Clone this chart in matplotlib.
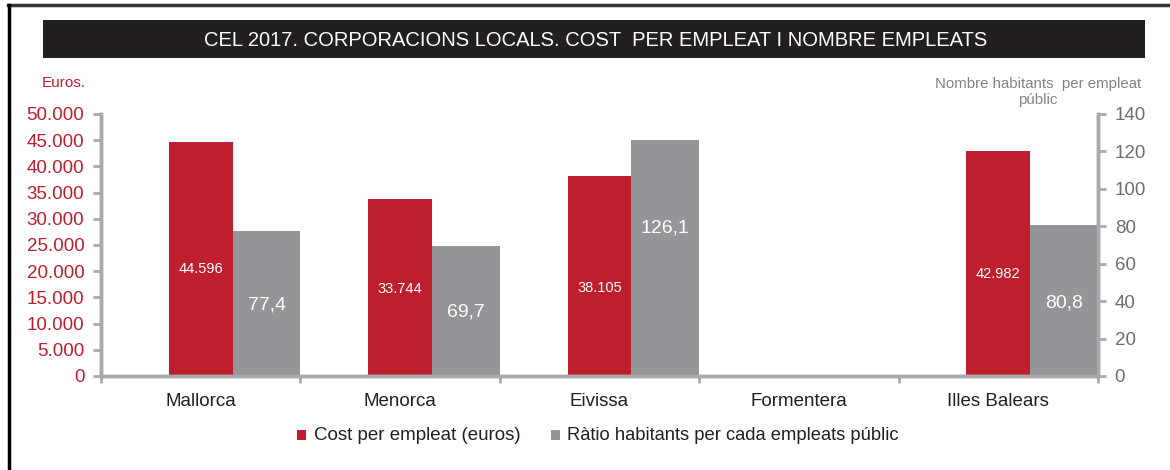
import numpy as np
import matplotlib.pyplot as plt
from matplotlib.patches import Rectangle
from matplotlib.lines import Line2D

plt.rcParams['font.family'] = ['Liberation Sans', 'DejaVu Sans']

categories = ['Mallorca', 'Menorca', 'Eivissa', 'Formentera', 'Illes Balears']
cost = [44596, 33744, 38105, np.nan, 42982]
ratio = [77.4, 69.7, 126.1, np.nan, 80.8]
cost_labels = ['44.596', '33.744', '38.105', '', '42.982']
ratio_labels = ['77,4', '69,7', '126,1', '', '80,8']
left_ticks = np.arange(0, 50001, 5000)
right_ticks = np.arange(0, 141, 20)

# where the labels sit inside each bar (fraction of bar height)
cost_lab_pos = [0.46, 0.49, 0.44, 0, 0.455]
ratio_lab_pos = [0.49, 0.49, 0.627, 0, 0.485]

RED = '#BE1E2D'
GREY = '#939598'
AXC = '#A7A9AC'
DARK = '#231F20'

fig = plt.figure(figsize=(11.7, 4.7), dpi=100)

# outer frame (top + left visible)
fig.add_artist(Line2D([8/1170, 1], [1-4.5/470, 1-4.5/470], color='#333333', lw=2.5))
fig.add_artist(Line2D([9/1170, 9/1170], [0, 1-4.5/470], color='black', lw=2.5))

# title bar
fig.add_artist(Rectangle((43/1170, 1-58/470), (1145-43)/1170, 38/470,
                         facecolor=DARK, edgecolor='none'))
fig.text(596/1170, 1-40/470, 'CEL 2017. CORPORACIONS LOCALS. COST  PER EMPLEAT I NOMBRE EMPLEATS',
         color='white', fontsize=14.5, ha='center', va='center')

ax = fig.add_axes([101/1170, 0.2, (1098-101)/1170, (376-114)/470])
ax2 = ax.twinx()

x = np.arange(len(categories))
w1, w2 = 0.32, 0.34
ax.bar(x, cost, width=w1, color=RED, zorder=2)
ax2.bar(x + w1/2, ratio, width=w2, align='edge', color=GREY, zorder=2)

for i in range(len(categories)):
    if cost_labels[i]:
        ax.text(x[i], cost[i]*cost_lab_pos[i], cost_labels[i], color='white',
                fontsize=10.5, ha='center', va='center', zorder=3)
    if ratio_labels[i]:
        ax2.text(x[i] + w1/2 + w2/2, ratio[i]*ratio_lab_pos[i], ratio_labels[i],
                 color='white', fontsize=14, ha='center', va='center', zorder=3)

ax.set_xlim(-0.5, len(categories) - 0.5)
ax.set_ylim(0, 50000)
ax2.set_ylim(0, 140)
ax.set_yticks(left_ticks)
ax.set_yticklabels([f'{v:,}'.replace(',', '.') for v in left_ticks])
ax2.set_yticks(right_ticks)

ax.set_xticks(x)
ax.set_xticklabels(categories)
ax.set_xticks(np.arange(-0.5, len(categories)), minor=True)
ax.tick_params(axis='x', which='major', length=0, labelsize=13.5, labelcolor=DARK, pad=12)
ax.tick_params(axis='x', which='minor', length=5, width=2, color=AXC, direction='out')
ax.tick_params(axis='y', length=6, width=2, color=AXC, labelsize=13.5, labelcolor=RED, pad=6)
ax2.tick_params(axis='y', length=6, width=2, color=AXC, labelsize=13.5, labelcolor='#6D6E71', pad=6)

for a in (ax, ax2):
    a.spines['top'].set_visible(False)
    for s in ('left', 'right', 'bottom'):
        a.spines[s].set_color(AXC)
        a.spines[s].set_linewidth(2.5)

fig.text(42/1170, 1-83/470, 'Euros.', color=RED, fontsize=11, ha='left', va='center')
fig.text(1038/1170, 1-92/470, 'Nombre habitants  per empleat\npúblic',
         color='#808285', fontsize=10.8, ha='center', va='center', linespacing=1.2)

# legend
fig.add_artist(Rectangle((297/1170, 1-440/470), 9/1170, 10/470, facecolor=RED, edgecolor='none'))
fig.text(314/1170, 1-435/470, 'Cost per empleat (euros)', fontsize=13.5, color=DARK,
         ha='left', va='center')
fig.add_artist(Rectangle((551/1170, 1-440/470), 9/1170, 10/470, facecolor=GREY, edgecolor='none'))
fig.text(567/1170, 1-435/470, 'Ràtio habitants per cada empleats públic', fontsize=13.2,
         color=DARK, ha='left', va='center')

fig.savefig('out.png', dpi=100)
